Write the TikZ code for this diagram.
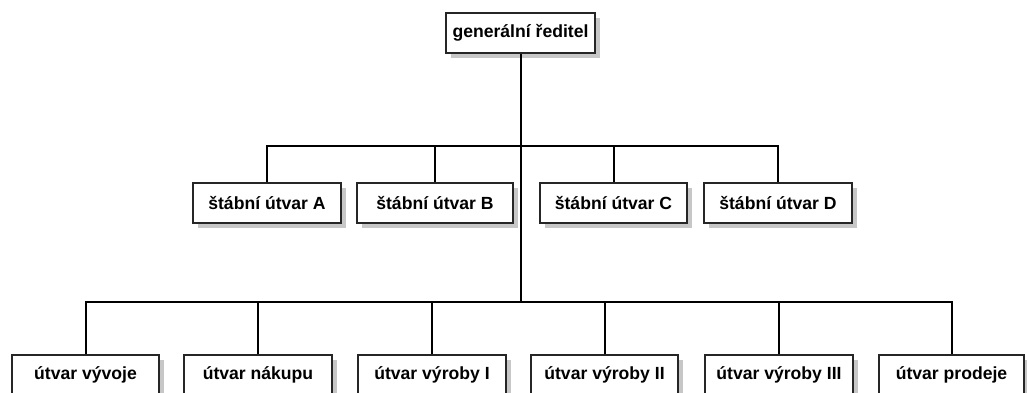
\documentclass[tikz,border=0pt]{standalone}
\usepackage{fontspec}
\setmainfont{Liberation Sans}
\usetikzlibrary{shadows}
\begin{document}
\begin{tikzpicture}[x=1pt,y=-1pt,
  unit/.style={draw=black!85, line width=1.1pt, fill=white,
    minimum height=40pt, inner sep=0pt,
    font=\fontsize{17.6}{20}\selectfont\bfseries,
    drop shadow={shadow xshift=4.5pt, shadow yshift=-4.5pt, fill=black!22, opacity=1}},
  link/.style={line width=2pt, black}]
\clip (0,0) rectangle (1027,392);
\fill[white] (0,0) rectangle (1027,392);

% top level
\node[unit, minimum width=149pt] (gr) at (520.5,33) {generální ředitel};

% staff units
\node[unit, minimum width=148pt] (sa) at (267,203) {štábní útvar A};
\node[unit, minimum width=156pt] (sb) at (435,203) {štábní útvar B};
\node[unit, minimum width=147pt] (sc) at (613.5,203) {štábní útvar C};
\node[unit, minimum width=148pt] (sd) at (778,203) {štábní útvar D};

% line units
\node[unit, minimum width=147pt] (u1) at (85.5,375) {útvar vývoje};
\node[unit, minimum width=148pt] (u2) at (258,375) {útvar nákupu};
\node[unit, minimum width=148pt] (u3) at (432,375) {útvar výroby I};
\node[unit, minimum width=147pt] (u4) at (604.5,375) {útvar výroby II};
\node[unit, minimum width=148pt] (u5) at (779,375) {útvar výroby III};
\node[unit, minimum width=145pt] (u6) at (951.5,375) {útvar prodeje};

% bus coordinates
\coordinate (sbus) at (520.5,146);
\coordinate (bbus) at (520.5,302);

% connectors
\draw[link] (gr.south) -- (bbus);
\draw[link] (sa.north) |- (sbus) -| (sd.north);
\draw[link] (sb.north) -- (sb.north |- sbus);
\draw[link] (sc.north) -- (sc.north |- sbus);
\draw[link] (u1.north) |- (bbus) -| (u6.north);
\draw[link] (u2.north) -- (u2.north |- bbus);
\draw[link] (u3.north) -- (u3.north |- bbus);
\draw[link] (u4.north) -- (u4.north |- bbus);
\draw[link] (u5.north) -- (u5.north |- bbus);
\end{tikzpicture}
\end{document}
